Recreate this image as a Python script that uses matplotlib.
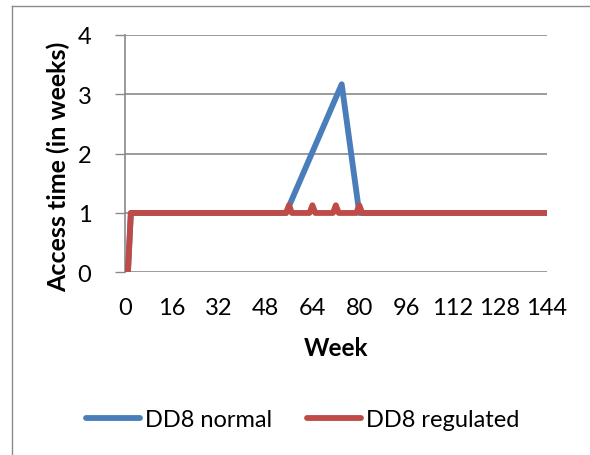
import matplotlib
matplotlib.use("Agg")
import matplotlib.pyplot as plt
from matplotlib.lines import Line2D

plt.rcParams['font.family'] = ['Lato', 'DejaVu Sans']

# Data (key points; straight segments between them)
normal_weeks = [0, 1, 2, 55, 74, 80, 144]
normal_vals = [0, 0, 1, 1, 3.17, 1, 1]

reg_weeks = [0, 1, 2, 55, 56, 57, 63, 64, 65, 71, 72, 73, 79, 80, 81, 144]
reg_vals = [0, 0, 1, 1, 1.13, 1, 1, 1.13, 1, 1, 1.13, 1, 1, 1.13, 1, 1]

xticks = [0, 16, 32, 48, 64, 80, 96, 112, 128, 144]
yticks = [0, 1, 2, 3, 4]
series_names = ["DD8 normal", "DD8 regulated"]

W, H = 590, 456
fig = plt.figure(figsize=(W / 100, H / 100), dpi=100)
fig.patch.set_facecolor('white')

left, right, top, bottom = 125, 546.7, 36, 273.3
ax = fig.add_axes([left / W, 1 - bottom / H, (right - left) / W, (bottom - top) / H])

grid_c = '#8a8a8a'
blue = '#4A7EBB'
red = '#BE4B48'

ax.plot(normal_weeks, normal_vals, color=blue, lw=4.2, solid_capstyle='round',
        solid_joinstyle='round', label=series_names[0], zorder=3)
ax.plot(reg_weeks, reg_vals, color=red, lw=4.2, solid_capstyle='round',
        solid_joinstyle='round', label=series_names[1], zorder=4)

ax.set_xlim(0, 144)
ax.set_ylim(0, 4)
ax.set_xticks(xticks)
ax.set_yticks(yticks)
ax.set_xticklabels([str(v) for v in xticks])
ax.set_yticklabels([str(v) for v in yticks])

ax.grid(axis='y', color=grid_c, lw=1.2)
ax.set_axisbelow(True)
for s in ['top', 'right', 'bottom']:
    ax.spines[s].set_visible(False)
ax.spines['left'].set_color(grid_c)
ax.spines['left'].set_linewidth(1.2)

ax.tick_params(axis='y', direction='out', length=7.2, width=1.0, color=grid_c,
               pad=17, labelsize=17)
ax.tick_params(axis='x', length=0, pad=17.5, labelsize=17)

ax.set_xlabel('Week', fontsize=17.5, fontweight='bold', labelpad=13)
fig.text(58 / W, 1 - 167 / H, 'Access time (in weeks)', rotation=90,
         fontsize=18, fontweight='bold', ha='center', va='center')

leg = fig.legend(loc='center', bbox_to_anchor=(302.5 / W, 1 - 421 / H), ncol=2,
                 frameon=False, fontsize=17, handlelength=2.3, handletextpad=0.21,
                 columnspacing=1.47, borderpad=0)
for h in leg.get_lines():
    h.set_linewidth(4.2)

# chart area border (extends past right and bottom edges)
fig.add_artist(Line2D([12.3 / W, 12.3 / W], [0, 1 - 7.3 / H], color=grid_c, lw=1.0,
                      transform=fig.transFigure))
fig.add_artist(Line2D([12.3 / W, 1], [1 - 7.3 / H, 1 - 7.3 / H], color=grid_c, lw=1.0,
                      transform=fig.transFigure))

fig.savefig('out.png', dpi=100, facecolor='white')
